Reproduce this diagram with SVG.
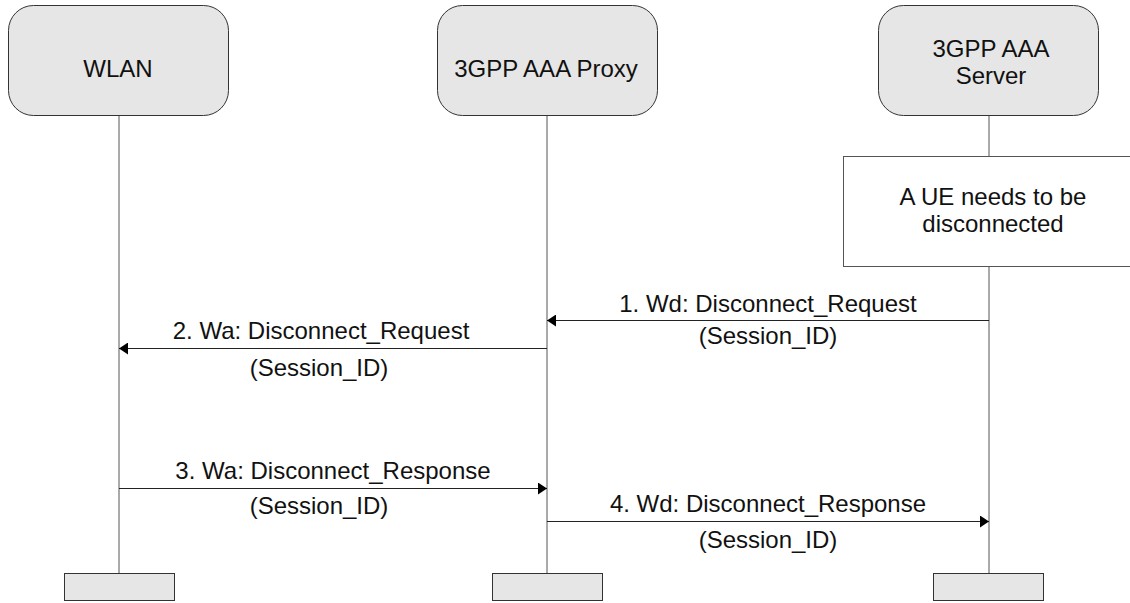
<svg xmlns="http://www.w3.org/2000/svg" width="1130" height="603" viewBox="0 0 1130 603">
<style>
.actor{fill:#e6e6e6;stroke:#333;stroke-width:1}
.note{fill:#fff;stroke:#555;stroke-width:1}
.life{stroke:#555;stroke-width:1;fill:none}
.msg{stroke:#222;stroke-width:1;fill:none}
text{font-family:"Liberation Sans",Arial,sans-serif;font-size:24px;fill:#111;text-anchor:middle}
</style>
<defs>
<marker id="ah" markerWidth="10" markerHeight="12" refX="9" refY="6" orient="auto" markerUnits="userSpaceOnUse">
<path d="M0,0 L9,6 L0,12 Z" fill="#000"/>
</marker>
</defs>
<rect width="1130" height="603" fill="#fff"/>
<g id="lifelines">
<line class="life" x1="119" y1="115" x2="119" y2="573"/>
<line class="life" x1="547" y1="115" x2="547" y2="573"/>
<line class="life" x1="989" y1="115" x2="989" y2="156"/>
<line class="life" x1="989" y1="266" x2="989" y2="573"/>
</g>
<g id="wlan">
<rect class="actor" x="8.5" y="5.5" width="220" height="110" rx="25"/>
<text x="118" y="77">WLAN</text>
<rect class="actor" x="64.5" y="573.5" width="110" height="27"/>
</g>
<g id="proxy">
<rect class="actor" x="437.5" y="5.5" width="220" height="110" rx="25"/>
<text x="546" y="77">3GPP AAA Proxy</text>
<rect class="actor" x="492.5" y="573.5" width="110" height="27"/>
</g>
<g id="server">
<rect class="actor" x="878.5" y="5.5" width="220" height="110" rx="25"/>
<text x="991" y="57">3GPP AAA</text>
<text x="991" y="84">Server</text>
<rect class="actor" x="933.5" y="573.5" width="110" height="27"/>
</g>
<g id="note">
<rect class="note" x="843.5" y="156.5" width="300" height="110"/>
<text x="993" y="205">A UE needs to be</text>
<text x="993" y="232">disconnected</text>
</g>
<g id="connectors">
<line class="msg" x1="989" y1="320.5" x2="547" y2="320.5" marker-end="url(#ah)"/>
<line class="msg" x1="547" y1="348.5" x2="119" y2="348.5" marker-end="url(#ah)"/>
<line class="msg" x1="119" y1="488.5" x2="547" y2="488.5" marker-end="url(#ah)"/>
<line class="msg" x1="547" y1="521.5" x2="989" y2="521.5" marker-end="url(#ah)"/>
</g>
<g id="labels">
<text x="768" y="312">1. Wd: Disconnect_Request</text>
<text x="768" y="344">(Session_ID)</text>
<text x="321" y="339">2. Wa: Disconnect_Request</text>
<text x="319" y="376">(Session_ID)</text>
<text x="333" y="479">3. Wa: Disconnect_Response</text>
<text x="319" y="514">(Session_ID)</text>
<text x="768" y="512">4. Wd: Disconnect_Response</text>
<text x="768" y="548">(Session_ID)</text>
</g>
</svg>
